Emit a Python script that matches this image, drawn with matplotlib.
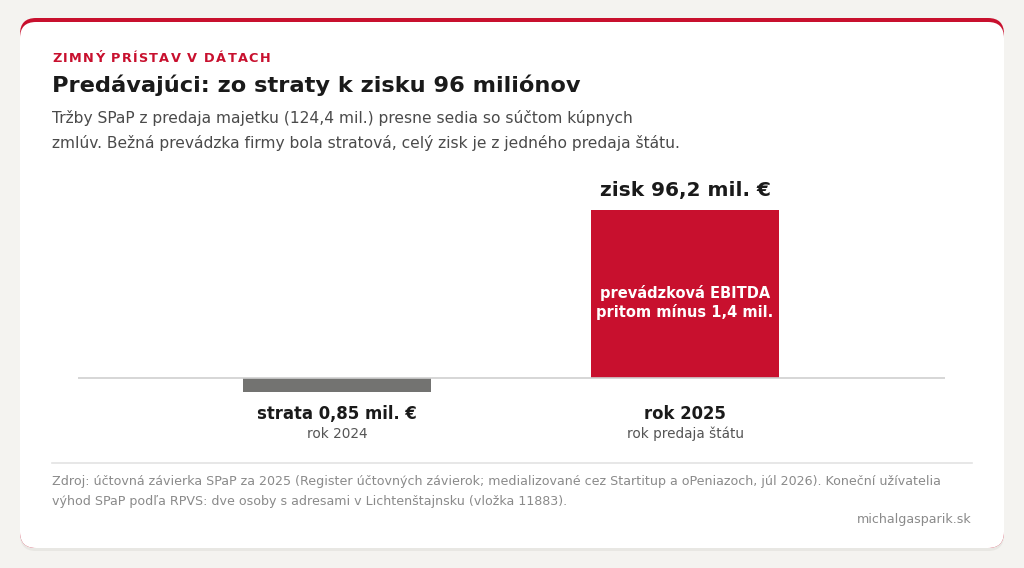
import numpy as np
import matplotlib
matplotlib.use("Agg")
import matplotlib.pyplot as plt
from matplotlib.patches import FancyBboxPatch
from matplotlib.transforms import IdentityTransform

# ----------------- Data -----------------
values = [-0.85, 96.2]            # mil. EUR, net result
value_label = "zisk 96,2 mil. €"
main_labels = ["strata 0,85 mil. €", "rok 2025"]
sub_labels = ["rok 2024", "rok predaja štátu"]
bar_colors = ["#737371", "#c8102e"]
MIN_VISIBLE = 8.0                 # small loss drawn with a minimum visible height

kicker = "ZIMNÝ PRÍSTAV V DÁTACH"
title = "Predávajúci: zo straty k zisku 96 miliónov"
subtitle = ["Tržby SPaP z predaja majetku (124,4 mil.) presne sedia so súčtom kúpnych",
            "zmlúv. Bežná prevádzka firmy bola stratová, celý zisk je z jedného predaja štátu."]
inner_note = "prevádzková EBITDA\npritom mínus 1,4 mil."
source = ["Zdroj: účtovná závierka SPaP za 2025 (Register účtovných závierok; medializované cez Startitup a oPeniazoch, júl 2026). Koneční užívatelia",
          "výhod SPaP podľa RPVS: dve osoby s adresami v Lichtenštajnsku (vložka 11883)."]
credit = "michalgasparik.sk"

W, H = 1024, 568
plt.rcParams['font.family'] = ['DejaVu Sans']

fig = plt.figure(figsize=(W / 100, H / 100), dpi=100)
fig.patch.set_facecolor("#f4f3f0")

def fy(y):
    # pixel y from top -> figure fraction
    return 1 - y / H

def fx(x):
    return x / W

# ----------------- Card -----------------
ident = IdentityTransform()
shadow = FancyBboxPatch((20, H - 551), 984, 529, boxstyle="round,pad=0,rounding_size=16",
                        transform=ident, facecolor="#e8e7e3", edgecolor="none", zorder=0)
red = FancyBboxPatch((20, H - 548), 984, 530, boxstyle="round,pad=0,rounding_size=16",
                     transform=ident, facecolor="#c8102e", edgecolor="none", zorder=1)
card = FancyBboxPatch((20, H - 548), 984, 526, boxstyle="round,pad=0,rounding_size=16",
                      transform=ident, facecolor="white", edgecolor="none", zorder=2)
for p in (shadow, red, card):
    fig.patches.append(p)

# ----------------- Header texts -----------------
# kicker with letter spacing: place characters one by one
renderer = fig.canvas.get_renderer()
cx = 52.0
for ch in kicker:
    t = fig.text(fx(cx), fy(58), ch, color="#c8102e", fontsize=9.3, fontweight="bold",
                 va="center", ha="left", zorder=3)
    if ch == " ":
        cx += 4.2 + 1.3
    else:
        cx += t.get_window_extent(renderer).width + 1.3

fig.text(fx(52), fy(85), title, color="#1a1a1a", fontsize=16.2, fontweight="bold",
         va="center", ha="left", zorder=3)
for i, line in enumerate(subtitle):
    fig.text(fx(52), fy(118 + 25 * i), line, color="#4a4a4a", fontsize=11.15,
             va="center", ha="left", zorder=3)

# ----------------- Bars -----------------
ax = fig.add_axes([fx(78), fy(400), (945 - 78) / W, (400 - 180) / H])
ax.set_zorder(3)
ax.patch.set_alpha(0)
x = np.arange(len(values))
shown = [np.sign(v) * max(abs(v), MIN_VISIBLE) for v in values]
bars = ax.bar(x, shown, width=0.54, color=bar_colors, zorder=2)
ax.axhline(0, color="#cfcfcf", lw=1.2, zorder=3)
ax.set_xlim(-0.744, 1.747)
ax.set_ylim(-12.6, 113.4)
ax.axis("off")

# value label above the profit bar
ax.text(x[1], values[1] + 6, value_label, ha="center", va="bottom",
        fontsize=14.5, fontweight="bold", color="#1a1a1a")
ax.text(x[1], values[1] * 0.45, inner_note, ha="center", va="center",
        fontsize=10.5, fontweight="bold", color="white", linespacing=1.2)

# category labels below
for xi, m, s in zip(x, main_labels, sub_labels):
    ax.annotate(m, (xi, 0), xytext=(0, -36), textcoords="offset pixels",
                ha="center", va="center", fontsize=11.9, fontweight="bold", color="#1a1a1a")
    ax.annotate(s, (xi, 0), xytext=(0, -56), textcoords="offset pixels",
                ha="center", va="center", fontsize=9.8, color="#555555")

# ----------------- Footer -----------------
fig.add_artist(plt.Line2D([fx(52), fx(972)], [fy(463), fy(463)], color="#e3e3e3", lw=1.2,
                          transform=fig.transFigure, zorder=3))
for i, line in enumerate(source):
    fig.text(fx(52), fy(482 + 19 * i), line, color="#8a8a8a", fontsize=9.07,
             va="center", ha="left", zorder=3)
fig.text(fx(972), fy(520), credit, color="#8a8a8a", fontsize=9.07,
         va="center", ha="right", zorder=3)

fig.savefig("out.png", dpi=100, facecolor=fig.get_facecolor())
